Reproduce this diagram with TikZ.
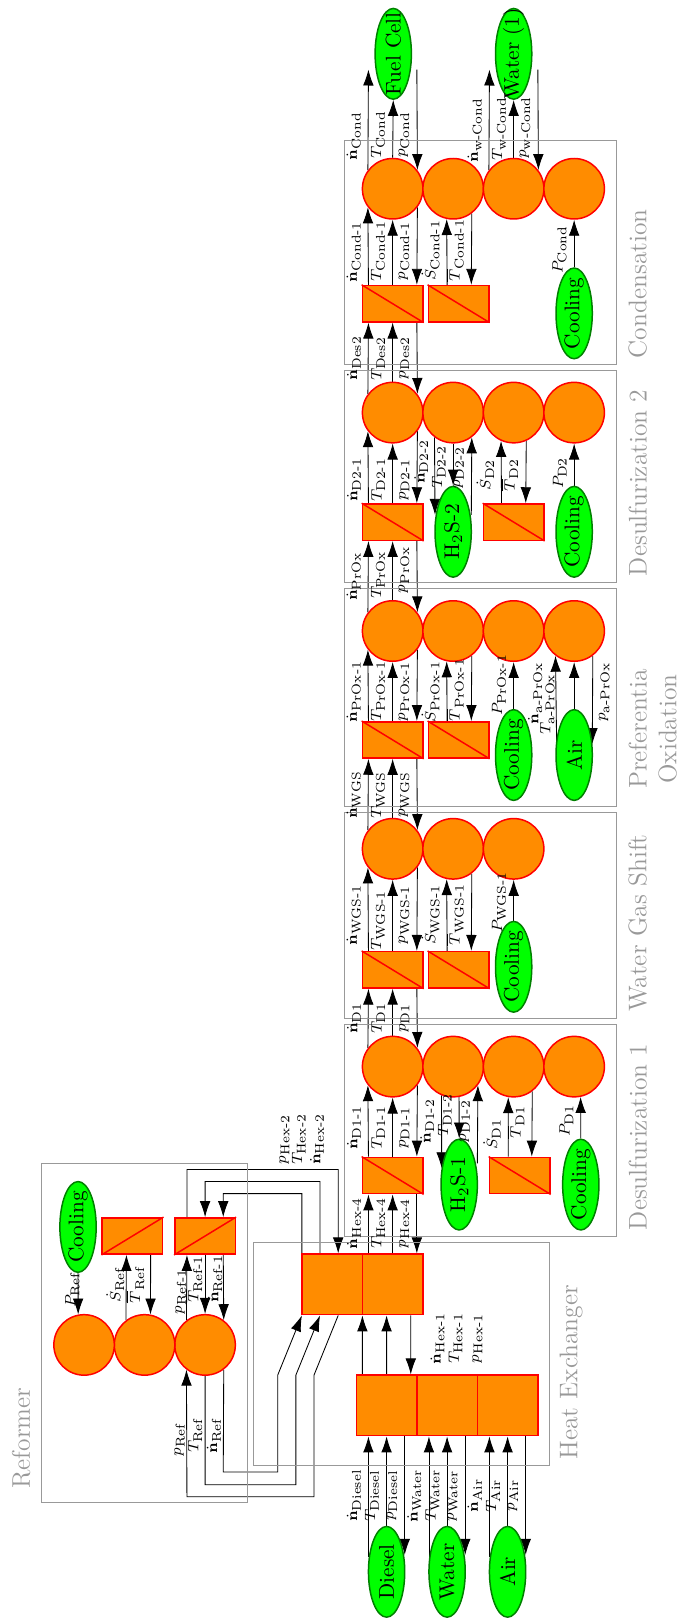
\documentclass[tikz,border=0pt]{standalone}
\usepackage{amsmath}
\usepackage{tikz}
\usetikzlibrary{arrows.meta,shapes.geometric,backgrounds}

\definecolor{blockfill}{RGB}{255,140,0}
\DeclareMathSizes{7}{7}{6}{5}

\tikzset{
	bal/.style={circle, draw=red, fill=blockfill, line width=0.7pt, minimum size=1cm, inner sep=0pt},
	rct/.style={rectangle, draw=red, fill=blockfill, line width=0.7pt, minimum width=0.6cm, minimum height=1cm, inner sep=0pt},
	hex/.style={rectangle, draw=red, fill=blockfill, line width=0.7pt, minimum size=1cm, inner sep=0pt},
	ell/.style={ellipse, draw=green!50!black, fill=green, line width=0.7pt, minimum width=1.5cm, minimum height=0.6cm, inner sep=0pt},
	dgl/.style={draw=red, line width=0.7pt},
	frm/.style={draw=black!40, line width=0.45pt},
	ttl/.style={text=black!40, font=\large, align=center},
	lbl/.style={anchor=south, font=\scriptsize}
}
\newcommand{\etx}[1]{\makebox[0pt]{#1}}

\begin{document}
\begin{tikzpicture}[>={Latex[length=7.5pt,width=5pt]}, rotate=90, transform shape]
	\useasboundingbox (0,0) rectangle (26.76,11.22);

	% Recuadros de cada etapa
	\draw[frm] (20.74,5.53) rectangle (24.43,1.03);
	\draw[frm] (17.14,5.53) rectangle (20.63,1.03);
	\draw[frm] (13.43,5.53) rectangle (17.03,1.03);
	\draw[frm] (9.93,5.53) rectangle (13.33,1.03);
	\draw[frm] (6.33,5.53) rectangle (9.83,1.03);
	\draw[frm] (2.53,7.03) rectangle (6.23,2.13);
	\draw[frm] (1.93,10.53) rectangle (7.53,7.13);

	% Titulos
	\node[ttl] (ttlCond) at (22.07,0.68) {Condensation};
	\node[ttl] (ttlDesB) at (18.78,0.68) {Desulfurization 2};
	\node[ttl] (ttlPrOx) at (14.71,0.43) {Preferentia\\Oxidation};
	\node[ttl] (ttlWgs) at (11.50,0.68) {Water Gas Shift};
	\node[ttl] (ttlDesA) at (7.97,0.68) {Desulfurization 1};
	\node[ttl] (ttlHex) at (4.08,1.78) {Heat Exchanger};
	\node[ttl] (ttlRef) at (2.99,10.87) {Reformer};

	% Condensation
	\node[bal] (condA) at (23.64,4.73) {};
	\node[bal] (condB) at (23.64,3.73) {};
	\node[bal] (condC) at (23.64,2.73) {};
	\node[bal] (condD) at (23.64,1.73) {};
	\node[rct] (condRa) at (21.74,4.73) {};
	\node[rct] (condRb) at (21.74,3.64) {};
	\draw[dgl] (condRa.north east) -- (condRa.south west);
	\draw[dgl] (condRb.north east) -- (condRb.south west);
	\node[ell] (fuelCell) at (25.87,4.72) {\etx{Fuel Cell}};
	\node[ell] (waterOut) at (25.87,2.73) {\etx{Water (1)}};
	\node[ell] (condCool) at (21.58,1.73) {\etx{Cooling}};

	% Desulfurization 2
	\node[bal] (desbA) at (19.94,4.73) {};
	\node[bal] (desbB) at (19.94,3.73) {};
	\node[bal] (desbC) at (19.94,2.73) {};
	\node[bal] (desbD) at (19.94,1.73) {};
	\node[rct] (desbRa) at (18.13,4.73) {};
	\node[rct] (desbRb) at (18.13,2.73) {};
	\draw[dgl] (desbRa.north east) -- (desbRa.south west);
	\draw[dgl] (desbRb.north east) -- (desbRb.south west);
	\node[ell] (hssB) at (17.97,3.73) {\etx{H$_2$S-2}};
	\node[ell] (desbCool) at (17.97,1.73) {\etx{Cooling}};

	% Preferential oxidation
	\node[bal] (proxA) at (16.33,4.73) {};
	\node[bal] (proxB) at (16.33,3.73) {};
	\node[bal] (proxC) at (16.33,2.73) {};
	\node[bal] (proxD) at (16.33,1.73) {};
	\node[rct] (proxRa) at (14.53,4.73) {};
	\node[rct] (proxRb) at (14.53,3.64) {};
	\draw[dgl] (proxRa.north east) -- (proxRa.south west);
	\draw[dgl] (proxRb.north east) -- (proxRb.south west);
	\node[ell] (proxCool) at (14.28,2.73) {\etx{Cooling}};
	\node[ell] (proxAir) at (14.28,1.73) {\etx{Air}};

	% Water gas shift
	\node[bal] (wgsA) at (12.73,4.73) {};
	\node[bal] (wgsB) at (12.73,3.73) {};
	\node[bal] (wgsC) at (12.73,2.73) {};
	\node[rct] (wgsRa) at (10.73,4.73) {};
	\node[rct] (wgsRb) at (10.73,3.64) {};
	\draw[dgl] (wgsRa.north east) -- (wgsRa.south west);
	\draw[dgl] (wgsRb.north east) -- (wgsRb.south west);
	\node[ell] (wgsCool) at (10.78,2.73) {\etx{Cooling}};

	% Desulfurization 1
	\node[bal] (desaA) at (9.13,4.73) {};
	\node[bal] (desaB) at (9.13,3.73) {};
	\node[bal] (desaC) at (9.13,2.73) {};
	\node[bal] (desaD) at (9.13,1.73) {};
	\node[rct] (desaRa) at (7.33,4.73) {};
	\node[rct] (desaRb) at (7.33,2.63) {};
	\draw[dgl] (desaRa.north east) -- (desaRa.south west);
	\draw[dgl] (desaRb.north east) -- (desaRb.south west);
	\node[ell] (hssA) at (7.18,3.63) {\etx{H$_2$S-1}};
	\node[ell] (desaCool) at (7.18,1.62) {\etx{Cooling}};

	% Heat exchanger
	\node[hex] (hexUa) at (5.53,5.73) {};
	\node[hex] (hexUb) at (5.53,4.73) {};
	\node[hex] (hexLa) at (3.53,4.83) {};
	\node[hex] (hexLb) at (3.53,3.83) {};
	\node[hex] (hexLc) at (3.53,2.83) {};
	\node[ell] (diesel) at (0.78,4.83) {\etx{Diesel}};
	\node[ell] (water) at (0.78,3.83) {\etx{Water}};
	\node[ell] (air) at (0.78,2.83) {\etx{Air}};

	% Reformer
	\node[bal] (refA) at (4.53,7.83) {};
	\node[bal] (refB) at (4.53,8.83) {};
	\node[bal] (refC) at (4.53,9.83) {};
	\node[rct] (refRa) at (6.33,7.83) {};
	\node[rct] (refRb) at (6.33,9.03) {};
	\draw[dgl] (refRa.north west) -- (refRa.south east);
	\draw[dgl] (refRb.north west) -- (refRb.south east);
	\node[ell] (refCool) at (6.48,9.93) {\etx{Cooling}};

	% Conexiones, detras de los nodos
	\begin{pgfonlayer}{background}
		% Condensation
		\draw[->] (condA.53) -- ([xshift=-2.6mm,yshift=4.1mm]fuelCell.center);
		\draw[->] (condA.east) -- (fuelCell.west);
		\draw[->] ([xshift=-2.6mm,yshift=-3.9mm]fuelCell.center) -- (condA.-53);
		\draw[->] (condC.53) -- ([xshift=-2.6mm,yshift=4mm]waterOut.center);
		\draw[->] (condC.east) -- (waterOut.west);
		\draw[->] ([xshift=-2.6mm,yshift=-4mm]waterOut.center) -- (condC.-53);
		\draw[->] ([yshift=4mm]condRa.east) -- (condA.127);
		\draw[->] (condRa.east) -- (condA.west);
		\draw[->] (condA.233) -- ([yshift=-4mm]condRa.east);
		\draw[->] ([yshift=1.9mm]condRb.east) -- (condB.168);
		\draw[->] (condB.217) -- ([yshift=-2.1mm]condRb.east);
		\draw[->] (condCool.east) -- (condD.west);
		\draw[->] (desbA.53) -- ([yshift=4mm]condRa.west);
		\draw[->] (desbA.east) -- (condRa.west);
		\draw[->] ([yshift=-4mm]condRa.west) -- (desbA.-53);

		% Desulfurization 2
		\draw[->] ([yshift=4mm]desbRa.east) -- (desbA.127);
		\draw[->] (desbRa.east) -- (desbA.west);
		\draw[->] (desbA.233) -- ([yshift=-4mm]desbRa.east);
		\draw[->] (desbB.143) -- ([xshift=2.8mm,yshift=3mm]hssB.center);
		\draw[->] (desbB.west) -- (hssB.east);
		\draw[->] ([xshift=2.8mm,yshift=-3mm]hssB.center) -- (desbB.217);
		\draw[->] ([yshift=2mm]desbRb.east) -- (desbC.156);
		\draw[->] (desbC.204) -- ([yshift=-2mm]desbRb.east);
		\draw[->] (desbCool.east) -- (desbD.west);
		\draw[->] (proxA.53) -- ([yshift=4mm]desbRa.west);
		\draw[->] (proxA.east) -- (desbRa.west);
		\draw[->] ([yshift=-4mm]desbRa.west) -- (proxA.-53);

		% Preferential oxidation
		\draw[->] ([yshift=4mm]proxRa.east) -- (proxA.127);
		\draw[->] (proxRa.east) -- (proxA.west);
		\draw[->] (proxA.233) -- ([yshift=-4mm]proxRa.east);
		\draw[->] ([yshift=1.9mm]proxRb.east) -- (proxB.168);
		\draw[->] (proxB.217) -- ([yshift=-2.1mm]proxRb.east);
		\draw[->] (proxCool.east) -- (proxC.west);
		\draw[->] ([xshift=2.2mm,yshift=2.9mm]proxAir.center) -- (proxD.143);
		\draw[->] (proxAir.east) -- (proxD.west);
		\draw[->] (proxD.217) -- ([xshift=1.8mm,yshift=-3mm]proxAir.center);
		\draw[->] (wgsA.53) -- ([yshift=4mm]proxRa.west);
		\draw[->] (wgsA.east) -- (proxRa.west);
		\draw[->] ([yshift=-4mm]proxRa.west) -- (wgsA.-53);

		% Water gas shift
		\draw[->] ([yshift=4mm]wgsRa.east) -- (wgsA.127);
		\draw[->] (wgsRa.east) -- (wgsA.west);
		\draw[->] (wgsA.233) -- ([yshift=-4mm]wgsRa.east);
		\draw[->] ([yshift=1.9mm]wgsRb.east) -- (wgsB.168);
		\draw[->] (wgsB.217) -- ([yshift=-2.1mm]wgsRb.east);
		\draw[->] (wgsCool.east) -- (wgsC.west);
		\draw[->] (desaA.53) -- ([yshift=4mm]wgsRa.west);
		\draw[->] (desaA.east) -- (wgsRa.west);
		\draw[->] ([yshift=-4mm]wgsRa.west) -- (desaA.-53);

		% Desulfurization 1
		\draw[->] ([yshift=4mm]desaRa.east) -- (desaA.127);
		\draw[->] (desaRa.east) -- (desaA.west);
		\draw[->] (desaA.233) -- ([yshift=-4mm]desaRa.east);
		\draw[->] (desaB.158) -- ([xshift=2.7mm,yshift=2.9mm]hssA.center);
		\draw[->] (desaB.191) -- (hssA.east);
		\draw[->] ([xshift=3.5mm,yshift=-3mm]hssA.center) -- (desaB.233);
		\draw[->] ([yshift=1.9mm]desaRb.east) -- (desaC.170);
		\draw[->] (desaC.217) -- ([yshift=-2mm]desaRb.east);
		\draw[->] (desaCool.east) -- (desaD.192);
		\draw[->] ([yshift=4mm]hexUb.east) -- ([yshift=4mm]desaRa.west);
		\draw[->] (hexUb.east) -- (desaRa.west);
		\draw[->] ([yshift=-4mm]desaRa.west) -- ([yshift=-4mm]hexUb.east);

		% Heat exchanger
		\draw[->] ([yshift=4mm]hexLa.east) -- ([yshift=5mm]hexUb.west);
		\draw[->] (hexLa.east) -- ([yshift=1mm]hexUb.west);
		\draw[->] ([yshift=-3mm]hexUb.west) -- ([yshift=-4mm]hexLa.east);
		\draw[->] ([xshift=2.5mm,yshift=3mm]diesel.center) -- ([yshift=3mm]hexLa.west);
		\draw[->] (diesel.east) -- (hexLa.west);
		\draw[->] ([yshift=-3mm]hexLa.west) -- ([xshift=2.8mm,yshift=-3mm]diesel.center);
		\draw[->] ([xshift=2.5mm,yshift=3mm]water.center) -- ([yshift=3mm]hexLb.west);
		\draw[->] (water.east) -- (hexLb.west);
		\draw[->] ([yshift=-3mm]hexLb.west) -- ([xshift=2.8mm,yshift=-3mm]water.center);
		\draw[->] ([xshift=2.5mm,yshift=3mm]air.center) -- ([yshift=3mm]hexLc.west);
		\draw[->] (air.east) -- (hexLc.west);
		\draw[->] ([yshift=-3mm]hexLc.west) -- ([xshift=2.8mm,yshift=-3mm]air.center);

		% Reformer
		\draw[->] (refA.37) -- ([yshift=3mm]refRa.west);
		\draw[->] (refRa.west) -- (refA.east);
		\draw[->] ([yshift=-3mm]refRa.west) -- (refA.-37);
		\draw[->] (refB.37) -- ([yshift=1mm]refRb.west);
		\draw[->] ([yshift=-3mm]refRb.west) -- (refB.-11);
		\draw[->] (refCool.west) -- (refC.11);
		\draw[->] ([yshift=3mm]refRa.east) -- (7.43,8.13) -- (7.43,5.63) -- ([yshift=-1mm]hexUa.east);
		\draw[->] ([yshift=2mm]hexUa.east) -- (7.23,5.93) -- (7.23,7.83) -- (refRa.east);
		\draw[->] ([yshift=5mm]hexUa.east) -- (7.03,6.23) -- (7.03,7.53) -- ([yshift=-3mm]refRa.east);
		\draw[->] ([yshift=-1mm]hexUa.west) -- (4.03,6.03) -- (2.02,6.03) -- (2.02,8.13) -- (refA.143);
		\draw[->] (refA.west) -- (2.22,7.83) -- (2.22,6.33) -- (4.03,6.33) -- ([yshift=2mm]hexUa.west);
		\draw[->] (refA.217) -- (2.43,7.53) -- (2.43,6.63) -- (4.03,6.63) -- ([yshift=5mm]hexUa.west);
	\end{pgfonlayer}

	% Etiquetas: Condensation
	\node[lbl] (nCond) at (24.51,5.13) {$\dot{\mathbf{n}}_\text{Cond}$};
	\node[lbl] (tCond) at (24.53,4.73) {$T_\text{Cond}$};
	\node[lbl] (pCond) at (24.53,4.33) {$p_\text{Cond}$};
	\node[lbl] (nwCond) at (24.61,3.13) {$\dot{\mathbf{n}}_\text{w-Cond}$};
	\node[lbl] (twCond) at (24.63,2.73) {$T_\text{w-Cond}$};
	\node[lbl] (pwCond) at (24.65,2.33) {$p_\text{w-Cond}$};
	\node[lbl] (nCondA) at (22.60,5.13) {$\dot{\mathbf{n}}_\text{Cond-1}$};
	\node[lbl] (tCondA) at (22.61,4.73) {$T_\text{Cond-1}$};
	\node[lbl] (pCondA) at (22.61,4.33) {$p_\text{Cond-1}$};
	\node[lbl] (sCondA) at (22.62,3.83) {$\dot{S}_\text{Cond-1}$};
	\node[lbl] (bCondA) at (22.62,3.43) {$\overline{T}_\text{Cond-1}$};
	\node[lbl] (qCond) at (22.63,1.73) {$P_\text{Cond}$};
	\node[lbl] (nDes) at (20.84,5.13) {$\dot{\mathbf{n}}_\text{Des2}$};
	\node[lbl] (tDes) at (20.84,4.73) {$T_\text{Des2}$};
	\node[lbl] (pDes) at (20.84,4.33) {$p_\text{Des2}$};

	% Etiquetas: Desulfurization 2
	\node[lbl] (nDbA) at (18.83,5.13) {$\dot{\mathbf{n}}_\text{D2-1}$};
	\node[lbl] (tDbA) at (18.83,4.73) {$T_\text{D2-1}$};
	\node[lbl] (pDbA) at (18.83,4.33) {$p_\text{D2-1}$};
	\node[lbl] (nDbB) at (19.13,4.02) {$\dot{\mathbf{n}}_\text{D2-2}$};
	\node[lbl] (tDbB) at (19.04,3.73) {$T_\text{D2-2}$};
	\node[lbl] (pDbB) at (19.03,3.43) {$p_\text{D2-2}$};
	\node[lbl] (sDb) at (18.91,2.93) {$\dot{S}_\text{D2}$};
	\node[lbl] (bDb) at (18.91,2.53) {$\overline{T}_\text{D2}$};
	\node[lbl] (qDb) at (18.94,1.73) {$P_\text{D2}$};
	\node[lbl] (nPrOx) at (17.23,5.13) {$\dot{\mathbf{n}}_\text{PrOx}$};
	\node[lbl] (tPrOx) at (17.26,4.73) {$T_\text{PrOx}$};
	\node[lbl] (pPrOx) at (17.34,4.33) {$p_\text{PrOx}$};

	% Etiquetas: Preferential oxidation
	\node[lbl] (nPrOxA) at (15.33,5.13) {$\dot{\mathbf{n}}_\text{PrOx-1}$};
	\node[lbl] (tPrOxA) at (15.33,4.73) {$T_\text{PrOx-1}$};
	\node[lbl] (pPrOxA) at (15.33,4.33) {$p_\text{PrOx-1}$};
	\node[lbl] (sPrOxA) at (15.33,3.83) {$\dot{S}_\text{PrOx-1}$};
	\node[lbl] (bPrOxA) at (15.36,3.43) {$\overline{T}_\text{PrOx-1}$};
	\node[lbl] (qPrOxA) at (15.44,2.73) {$P_\text{PrOx-1}$};
	\node[lbl] (naPrOx) at (15.30,2.13) {$\dot{\mathbf{n}}_\text{a-PrOx}$};
	\node[lbl] (taPrOx) at (15.12,1.93) {$T_\text{a-PrOx}$};
	\node[lbl] (paPrOx) at (15.32,1.02) {$p_\text{a-PrOx}$};
	\node[lbl] (nWgs) at (13.62,5.13) {$\dot{\mathbf{n}}_\text{WGS}$};
	\node[lbl] (tWgs) at (13.62,4.73) {$T_\text{WGS}$};
	\node[lbl] (pWgs) at (13.62,4.33) {$p_\text{WGS}$};

	% Etiquetas: Water gas shift
	\node[lbl] (nWgsA) at (11.64,5.13) {$\dot{\mathbf{n}}_\text{WGS-1}$};
	\node[lbl] (tWgsA) at (11.55,4.73) {$T_\text{WGS-1}$};
	\node[lbl] (pWgsA) at (11.64,4.33) {$p_\text{WGS-1}$};
	\node[lbl] (sWgsA) at (11.64,3.83) {$\dot{S}_\text{WGS-1}$};
	\node[lbl] (bWgsA) at (11.64,3.43) {$\overline{T}_\text{WGS-1}$};
	\node[lbl] (qWgsA) at (11.85,2.73) {$P_\text{WGS-1}$};
	\node[lbl] (nDa) at (9.93,5.13) {$\dot{\mathbf{n}}_\text{D1}$};
	\node[lbl] (tDa) at (9.93,4.73) {$T_\text{D1}$};
	\node[lbl] (pDa) at (9.93,4.33) {$p_\text{D1}$};

	% Etiquetas: Desulfurization 1
	\node[lbl] (nDaA) at (8.12,5.13) {$\dot{\mathbf{n}}_\text{D1-1}$};
	\node[lbl] (tDaA) at (8.12,4.73) {$T_\text{D1-1}$};
	\node[lbl] (pDaA) at (8.12,4.33) {$p_\text{D1-1}$};
	\node[lbl] (nDaB) at (8.23,3.92) {$\dot{\mathbf{n}}_\text{D1-2}$};
	\node[lbl] (tDaB) at (8.33,3.63) {$T_\text{D1-2}$};
	\node[lbl] (pDaB) at (8.23,3.33) {$p_\text{D1-2}$};
	\node[lbl] (sDa) at (8.01,2.82) {$\dot{S}_\text{D1}$};
	\node[lbl] (bDa) at (8.21,2.43) {$\overline{T}_\text{D1}$};
	\node[lbl] (qDa) at (8.24,1.62) {$P_\text{D1}$};
	\node[lbl] (nHexD) at (6.54,5.13) {$\dot{\mathbf{n}}_\text{Hex-4}$};
	\node[lbl] (tHexD) at (6.54,4.73) {$T_\text{Hex-4}$};
	\node[lbl] (pHexD) at (6.54,4.33) {$p_\text{Hex-4}$};

	% Etiquetas: Heat exchanger
	\node[lbl] (nHexA) at (4.64,3.75) {$\dot{\mathbf{n}}_\text{Hex-1}$};
	\node[lbl] (tHexA) at (4.64,3.45) {$T_\text{Hex-1}$};
	\node[lbl] (pHexA) at (4.64,3.12) {$p_\text{Hex-1}$};
	\node[lbl] (pHexB) at (7.93,6.31) {$p_\text{Hex-2}$};
	\node[lbl] (tHexB) at (7.93,6.04) {$T_\text{Hex-2}$};
	\node[lbl] (nHexB) at (7.93,5.74) {$\dot{\mathbf{n}}_\text{Hex-2}$};
	\node[lbl] (nDiesel) at (2.04,5.13) {$\dot{\mathbf{n}}_\text{Diesel}$};
	\node[lbl] (tDiesel) at (2.04,4.83) {$T_\text{Diesel}$};
	\node[lbl] (pDiesel) at (2.04,4.53) {$p_\text{Diesel}$};
	\node[lbl] (nWater) at (2.04,4.13) {$\dot{\mathbf{n}}_\text{Water}$};
	\node[lbl] (tWater) at (2.04,3.83) {$T_\text{Water}$};
	\node[lbl] (pWater) at (2.04,3.53) {$p_\text{Water}$};
	\node[lbl] (nAir) at (2.04,3.13) {$\dot{\mathbf{n}}_\text{Air}$};
	\node[lbl] (tAir) at (2.04,2.83) {$T_\text{Air}$};
	\node[lbl] (pAir) at (2.04,2.53) {$p_\text{Air}$};

	% Etiquetas: Reformer
	\node[lbl] (pRefA) at (5.41,8.02) {$p_\text{Ref-1}$};
	\node[lbl] (tRefA) at (5.62,7.75) {$T_\text{Ref-1}$};
	\node[lbl] (nRefA) at (5.62,7.42) {$\dot{\mathbf{n}}_\text{Ref-1}$};
	\node[lbl] (sRef) at (5.52,9.04) {$\dot{S}_\text{Ref}$};
	\node[lbl] (bRef) at (5.52,8.71) {$\overline{T}_\text{Ref}$};
	\node[lbl] (qRef) at (5.44,9.78) {$P_\text{Ref}$};
	\node[lbl] (pRef) at (2.96,8.04) {$p_\text{Ref}$};
	\node[lbl] (tRef) at (3.03,7.75) {$T_\text{Ref}$};
	\node[lbl] (nRef) at (3.03,7.44) {$\dot{\mathbf{n}}_\text{Ref}$};
\end{tikzpicture}
\end{document}
